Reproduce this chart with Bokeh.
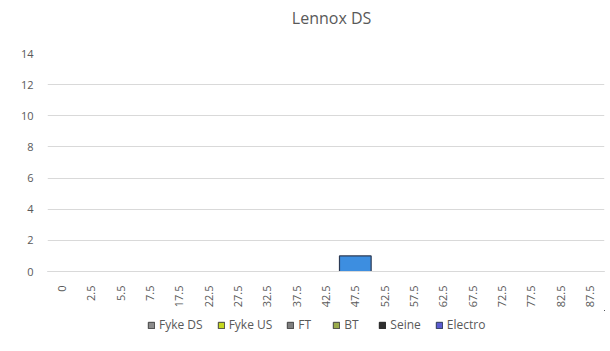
import math
from bokeh.plotting import figure
from bokeh.layouts import column
from bokeh.models import FactorRange, Range1d, Legend, LegendItem, Label
from bokeh.embed import file_html
from bokeh.resources import INLINE

categories = ["0", "2.5", "5.5", "7.5", "17.5", "22.5", "27.5", "32.5", "37.5", "42.5",
              "47.5", "52.5", "57.5", "62.5", "67.5", "72.5", "77.5", "82.5", "87.5"]
fyke_ds = [0] * 19
fyke_us = [0] * 19
ft = [0] * 19
bt = [0] * 19
seine = [0] * 19
electro = [0, 0, 0, 0, 0, 0, 0, 0, 0, 0, 1, 0, 0, 0, 0, 0, 0, 0, 0]

series_names = ["Fyke DS", "Fyke US", "FT", "BT", "Seine", "Electro"]
series_keys = ["fyke_ds", "fyke_us", "ft", "bt", "seine", "electro"]
fills = ["#8c8c8c", "#c5d81e", "#7f7f7f", "#9aab4a", "#2f2f2f", "#3d8ee0"]
lines = ["#404040", "#404040", "#404040", "#404040", "#202020", "#2b3a55"]
legend_fills = ["#8c8c8c", "#c5d81e", "#7f7f7f", "#9aab4a", "#2f2f2f", "#5b5bd0"]

data = dict(cat=categories, fyke_ds=fyke_ds, fyke_us=fyke_us, ft=ft, bt=bt,
            seine=seine, electro=electro)


def strip(h):
    f = figure(width=610, height=h, x_range=Range1d(0, 1), y_range=Range1d(0, 1),
               output_backend="svg", toolbar_location=None, min_border=0)
    f.xaxis.visible = False
    f.yaxis.visible = False
    f.xgrid.grid_line_color = None
    f.ygrid.grid_line_color = None
    f.outline_line_color = None
    return f


# title strip
tf = strip(35)
tf.add_layout(Label(x=0.51, y=0.5, text="Lennox DS", text_align="center",
                    text_baseline="middle", text_font="Open Sans",
                    text_font_size="16px", text_color="#595959"))

p = figure(x_range=FactorRange(*categories), y_range=Range1d(0, 14),
           width=610, height=275, output_backend="svg", toolbar_location=None,
           min_border_left=47, min_border_right=6, min_border_top=18, min_border_bottom=39)
p.outline_line_color = None
p.background_fill_color = "white"
p.border_fill_color = "white"

rs = p.vbar_stack(series_keys, x="cat", width=1.08, source=data,
                  fill_color=fills, line_color=lines, line_width=1.2)
for r, k in zip(rs, series_keys):
    if k != "electro":
        r.visible = False

p.xgrid.grid_line_color = None
p.ygrid.grid_line_color = "#d9d9d9"
p.ygrid.grid_line_width = 1

p.yaxis.ticker = list(range(0, 15, 2))
p.yaxis.axis_line_color = None
p.yaxis.major_tick_line_color = None
p.yaxis.minor_tick_line_color = None
p.yaxis.major_label_text_font = "Open Sans"
p.yaxis.major_label_text_font_size = "11px"
p.yaxis.major_label_text_color = "#595959"
p.yaxis.major_label_standoff = 8

p.xaxis.axis_line_color = "#d9d9d9"
p.xaxis.major_tick_line_color = None
p.xaxis.minor_tick_line_color = None
p.xaxis.major_label_orientation = math.pi / 2
p.xaxis.major_label_text_font = "Open Sans"
p.xaxis.major_label_text_font_size = "11px"
p.xaxis.major_label_text_color = "#595959"
p.xaxis.major_label_standoff = 8

# legend strip
lf = strip(41)
items = []
for name, fc, lc in zip(series_names, legend_fills, lines):
    g = lf.vbar(x=[5], bottom=[5], top=[6], width=0.5,
                fill_color=fc, line_color=lc, line_width=1)
    items.append(LegendItem(label=name, renderers=[g]))
legend = Legend(items=items, orientation="horizontal", location=(100, 18),
                label_text_font="Open Sans", label_text_font_size="12px",
                label_text_color="#595959", glyph_width=8, glyph_height=8,
                label_height=12, spacing=14, label_standoff=4, padding=2, margin=0,
                border_line_color=None, background_fill_alpha=0)
lf.add_layout(legend)

layout = column(tf, p, lf, spacing=0)
open("out.html", "w").write(file_html(layout, INLINE))
